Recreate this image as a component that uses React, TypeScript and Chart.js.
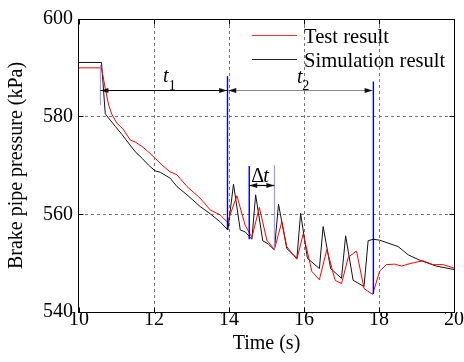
import React, { useEffect, useRef } from "react";
import { Chart, registerables } from "chart.js";

Chart.register(...registerables);

// ---- data ----
const testTime = [10.0, 10.6, 10.7, 10.79, 10.88, 11.01, 11.19, 11.37, 11.5, 11.68, 11.85, 12.03, 12.21, 12.43, 12.61, 12.88, 13.23, 13.5, 13.76, 13.96, 14.21, 14.43, 14.61, 14.81, 15.01, 15.21, 15.41, 15.54, 15.81, 15.98, 16.21, 16.41, 16.61, 16.83, 17.0, 17.18, 17.4, 17.6, 17.83, 18.02, 18.2, 18.42, 18.6, 18.82, 19.17, 19.44, 19.71, 20.0];
const testPressure = [590.0, 590.0, 585.8, 582.4, 580.4, 578.7, 577.3, 575.2, 574.8, 573.9, 572.8, 571.5, 570.1, 568.7, 568.1, 565.7, 563.3, 560.9, 559.9, 558.4, 563.8, 557.8, 555.3, 561.4, 554.7, 552.8, 558.5, 553.4, 550.8, 556.0, 548.3, 546.6, 552.8, 546.5, 545.8, 551.2, 552.5, 544.8, 543.6, 548.4, 549.7, 549.8, 549.4, 549.9, 550.5, 549.7, 549.7, 549.0];

const simTime = [10.0, 10.6, 10.7, 10.83, 10.97, 11.15, 11.32, 11.5, 11.68, 11.85, 12.03, 12.17, 12.43, 12.61, 12.88, 13.23, 13.5, 13.76, 13.97, 14.12, 14.3, 14.43, 14.61, 14.71, 14.9, 15.05, 15.21, 15.32, 15.54, 15.81, 15.91, 16.09, 16.41, 16.51, 16.71, 17.0, 17.11, 17.31, 17.6, 17.71, 17.85, 18.02, 18.51, 18.78, 19.09, 19.53, 20.0];
const simPressure = [591.1, 591.1, 580.6, 579.3, 578.0, 576.3, 574.6, 572.8, 571.5, 570.1, 568.9, 568.6, 567.4, 565.7, 564.0, 561.6, 560.1, 558.5, 556.8, 566.2, 556.8, 556.4, 554.9, 564.0, 554.6, 553.9, 552.7, 562.1, 553.0, 551.0, 560.2, 551.0, 548.9, 557.5, 548.9, 546.9, 555.6, 546.5, 545.2, 554.6, 554.9, 554.7, 553.4, 551.7, 550.6, 549.4, 548.7];

const xTicks = [10, 12, 14, 16, 18, 20];
const yTicks = [540, 560, 580, 600];

const seriesNames = ["Test result", "Simulation result"];
const xTitle = "Time (s)";
const yTitle = "Brake pipe pressure (kPa)";

// annotation markers (data coordinates: time, pressure)
const markerLines = [
  { t: 10.57, p1: 590.6, p2: 582.4, light: true },
  { t: 13.96, p1: 588.3, p2: 556.8, light: false },
  { t: 17.85, p1: 587.2, p2: 543.7, light: false },
  { t: 14.54, p1: 569.9, p2: 554.9, light: false },
  { t: 15.21, p1: 570.1, p2: 552.7, light: true },
];
const intervalArrows = [
  { t1: 10.57, t2: 13.95, p: 585.3, line: "#000000" },
  { t1: 13.98, t2: 17.83, p: 585.3, line: "#8a8a8a" },
  { t1: 14.54, t2: 15.21, p: 565.9, line: "#000000" },
];

const FONT = '"Liberation Serif", "Times New Roman", serif';

function toPoints(xs: number[], ys: number[]) {
  return xs.map((x, i) => ({ x, y: ys[i] }));
}

const decorPlugin = {
  id: "decor",
  beforeDatasetsDraw(chart: any) {
    const { ctx, chartArea: a, scales } = chart;
    const xs = scales.x, ys = scales.y;
    ctx.save();
    ctx.strokeStyle = "#777";
    ctx.lineWidth = 1;
    ctx.setLineDash([3, 3]);
    xTicks.forEach((v) => {
      if (v === 10 || v === 20) return;
      const px = Math.floor(xs.getPixelForValue(v)) + 0.5;
      ctx.beginPath();
      ctx.moveTo(px, a.top);
      ctx.lineTo(px, a.bottom);
      ctx.stroke();
    });
    yTicks.forEach((v) => {
      if (v === 540 || v === 600) return;
      const py = Math.floor(ys.getPixelForValue(v)) + 0.5;
      ctx.beginPath();
      ctx.moveTo(a.left, py);
      ctx.lineTo(a.right, py);
      ctx.stroke();
    });
    ctx.restore();
  },
  afterDatasetsDraw(chart: any) {
    const { ctx, chartArea: a, scales } = chart;
    const xs = scales.x, ys = scales.y;
    const X = (v: number) => xs.getPixelForValue(v);
    const Y = (v: number) => ys.getPixelForValue(v);
    ctx.save();
    ctx.setLineDash([]);

    // frame
    ctx.strokeStyle = "#000";
    ctx.lineWidth = 1;
    const L = a.left - 0.5, R = a.right + 0.5, T = a.top + 0.5, B = a.bottom + 0.5;
    ctx.strokeRect(L, T, R - L, B - T);
    // inner ticks
    const tl = 5;
    ctx.beginPath();
    xTicks.forEach((v) => {
      const px = Math.floor(X(v)) + 0.5;
      ctx.moveTo(px, B); ctx.lineTo(px, B - tl);
      ctx.moveTo(px, T); ctx.lineTo(px, T + tl);
    });
    yTicks.forEach((v) => {
      const py = Math.floor(Y(v)) + 0.5;
      ctx.moveTo(L, py); ctx.lineTo(L + tl, py);
      ctx.moveTo(R, py); ctx.lineTo(R - tl, py);
    });
    ctx.stroke();

    // marker lines
    markerLines.forEach((m) => {
      ctx.strokeStyle = m.light ? "#8c8cff" : "#0000d0";
      ctx.lineWidth = m.light ? 1 : 1.4;
      const px = X(m.t);
      ctx.beginPath();
      ctx.moveTo(px, Y(m.p1));
      ctx.lineTo(px, Y(m.p2));
      ctx.stroke();
    });

    // arrows
    const head = (tipX: number, y: number, dir: number) => {
      ctx.beginPath();
      ctx.moveTo(tipX, y);
      ctx.lineTo(tipX + dir * 8, y - 2.5);
      ctx.lineTo(tipX + dir * 8, y + 2.5);
      ctx.closePath();
      ctx.fill();
    };
    intervalArrows.forEach((ar) => {
      const x1 = X(ar.t1), x2 = X(ar.t2), y = Math.floor(Y(ar.p)) + 0.5;
      ctx.strokeStyle = ar.line;
      ctx.lineWidth = 1.2;
      ctx.beginPath();
      ctx.moveTo(x1, y);
      ctx.lineTo(x2, y);
      ctx.stroke();
      ctx.fillStyle = "#111";
      head(x1, y, 1);
      head(x2, y, -1);
    });

    // labels
    ctx.fillStyle = "#000";
    ctx.textBaseline = "alphabetic";
    ctx.textAlign = "left";
    const sub = (main: string, s: string, tx: number, bp: number, sx: number, sp: number) => {
      ctx.font = `italic 20px ${FONT}`;
      ctx.fillText(main, X(tx), Y(bp));
      ctx.font = `14px ${FONT}`;
      ctx.fillText(s, X(sx), Y(sp));
    };
    sub("t", "1", 12.24, 587.1, 12.39, 585.5);
    sub("t", "2", 15.81, 586.9, 15.95, 585.5);
    ctx.font = `20px ${FONT}`;
    ctx.fillText("Δ", X(14.59), Y(566.7));
    ctx.font = `italic 20px ${FONT}`;
    ctx.fillText("t", X(14.91), Y(566.7));

    // legend
    const legendColors = ["#ff3030", "#222222"];
    seriesNames.forEach((name, i) => {
      const ly = 35 + i * 24;
      ctx.strokeStyle = legendColors[i];
      ctx.lineWidth = 1;
      ctx.beginPath();
      ctx.moveTo(a.right - 202, ly + 0.5);
      ctx.lineTo(a.right - 157, ly + 0.5);
      ctx.stroke();
      ctx.fillStyle = "#000";
      ctx.font = `20.6px ${FONT}`;
      ctx.fillText(name, a.right - 150, ly + 7.5);
    });
    ctx.restore();
  },
};

export default function App() {
  const ref = useRef<HTMLCanvasElement | null>(null);
  useEffect(() => {
    if (!ref.current) return;
    const chart = new Chart(ref.current, {
      type: "line",
      data: {
        datasets: [
          {
            label: seriesNames[0],
            data: toPoints(testTime, testPressure),
            borderColor: "#ff0000",
            borderWidth: 1,
            pointRadius: 0,
            tension: 0,
            fill: false,
          },
          {
            label: seriesNames[1],
            data: toPoints(simTime, simPressure),
            borderColor: "#111111",
            borderWidth: 1,
            pointRadius: 0,
            tension: 0,
            fill: false,
          },
        ],
      },
      options: {
        responsive: false,
        animation: false,
        devicePixelRatio: 1,
        layout: { padding: { top: 19, right: 10, left: 0, bottom: 0 } },
        plugins: { legend: { display: false }, tooltip: { enabled: false } },
        scales: {
          x: {
            type: "linear",
            min: 10,
            max: 20,
            afterBuildTicks: (s: any) => { s.ticks = xTicks.map((v) => ({ value: v })); },
            ticks: { font: { family: FONT, size: 20 }, color: "#000", padding: -4, maxRotation: 0, autoSkip: false },
            grid: { display: false, drawTicks: false },
            border: { display: false },
            title: { display: true, text: xTitle, color: "#000", font: { family: FONT, size: 20 }, padding: { top: 0, bottom: 6 } },
            afterFit: (s: any) => { s.height = 50; },
          },
          y: {
            type: "linear",
            min: 540,
            max: 600,
            afterBuildTicks: (s: any) => { s.ticks = yTicks.map((v) => ({ value: v })); },
            ticks: { font: { family: FONT, size: 20 }, color: "#000", padding: 6, autoSkip: false },
            grid: { display: false, drawTicks: false },
            border: { display: false },
            title: { display: true, text: yTitle, color: "#000", font: { family: FONT, size: 20 }, padding: { top: 5, bottom: 0 } },
            afterFit: (s: any) => { s.width = 79; },
          },
        },
      },
      plugins: [decorPlugin],
    } as any);
    return () => chart.destroy();
  }, []);
  return (
    <div style={{ position: "absolute", left: 0, top: 0, width: 464, height: 362 }}>
      <canvas ref={ref} width={464} height={362} />
    </div>
  );
}
